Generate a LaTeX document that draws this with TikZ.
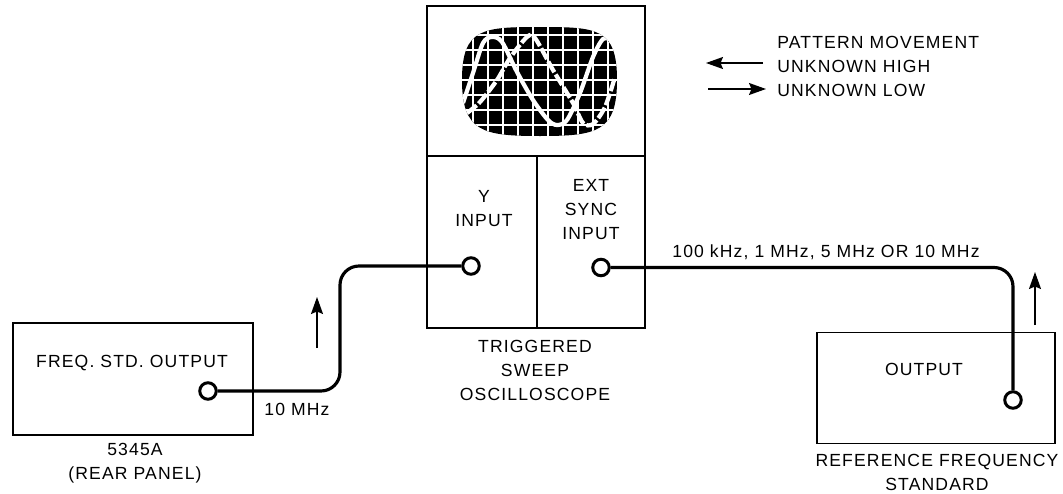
\documentclass[tikz,border=0pt]{standalone}
\usepackage{fontspec}
\setmainfont[LetterSpace=6.5]{Liberation Sans}
\usepackage{tikz}
\usetikzlibrary{arrows.meta, positioning, calc}
\newcommand{\crtpath}{(540,27) .. controls (597,27) and (617,28) .. (617,80)
  .. controls (617,132) and (597,136) .. (540,136)
  .. controls (483,136) and (462,132) .. (462,80)
  .. controls (462,28) and (483,27) .. (540,27) -- cycle}

\begin{document}
\begin{tikzpicture}[
  x=0.02cm, y=-0.02cm,
  lbl/.style={font=\fontsize{10}{13.66}\selectfont, align=center, inner sep=0pt},
  panel/.style={rectangle, draw, line width=0.8pt, inner sep=0pt, outer sep=0pt},
  port/.style={circle, draw, line width=1.7pt, fill=white, inner sep=0pt, minimum size=0.33cm},
  wire/.style={line width=1.8pt, rounded corners=0.38cm},
  arr/.style={-{Stealth[length=0.34cm, width=0.24cm, inset=0.05cm]}, line width=0.8pt},
  trace/.style={white, line width=2.4pt}
]
\useasboundingbox (0,0) rectangle (1063,494);
% oscilloscope panels
\node[panel, minimum width=4.36cm, minimum height=3cm] (screenpanel) at (536,81) {};
\node[panel, minimum width=2.2cm, minimum height=3.44cm] (ypanel) at (482,242) {};
\node[panel, minimum width=2.16cm, minimum height=3.44cm] (extpanel) at (591,242) {};
% crt screen
\fill \crtpath;
\begin{scope}
  \clip \crtpath;
  \foreach \i in {0,...,9}{
    \draw[white, line width=0.6pt] (473+\i*15,20) -- (473+\i*15,140);
  }
  \foreach \j in {0,...,6}{
    \draw[white, line width=0.6pt] (455,35+\j*15) -- (625,35+\j*15);
  }
  \draw[trace] plot[smooth] coordinates {(463,103) (473,73) (483,43) (492,37) (502,42) (517,72)
    (533,100) (548,120) (557,125) (567,120) (580,93) (593,57) (603,39) (612,40)};
  \draw[trace, dash pattern=on 7pt off 1.5pt] plot[smooth] coordinates {(467,113) (480,102) (497,80)
    (510,58) (527,37) (535,38) (553,70) (573,103) (583,123) (593,124) (605,107) (615,77)};
\end{scope}
% source and reference boxes
\node[panel, minimum width=4.8cm, minimum height=2.24cm] (freqbox) at (133,379) {};
\node[panel, minimum width=4.76cm, minimum height=2.22cm] (refbox) at (936,388) {};
% ports
\node[port] (freqport) at (208,391) {};
\node[port] (yport) at (471,266) {};
\node[port] (extport) at (601,267.5) {};
\node[port] (refport) at (1013,400) {};
% labels
\node[lbl] (freqlbl) at (132,363) {FREQ. STD. OUTPUT};
\node[lbl] (mhzlbl) at (297,409) {10 MHz};
\node[lbl] (rearlbl) at (135,463) {5345A\\(REAR PANEL)};
\node[lbl] (ylbl) at (484,209) {Y\\INPUT};
\node[lbl] (extlbl) at (591,210) {EXT\\SYNC\\INPUT};
\node[lbl] (scopelbl) at (535,370) {TRIGGERED\\SWEEP\\OSCILLOSCOPE};
\node[lbl] (freqslbl) at (826,252) {100 kHz, 1 MHz, 5 MHz OR 10 MHz};
\node[lbl] (outlbl) at (924,369) {OUTPUT};
\node[lbl] (stdlbl) at (937,472) {REFERENCE FREQUENCY\\STANDARD};
\node[lbl, anchor=west] (patlbl) at (777,42) {PATTERN MOVEMENT};
\node[lbl, anchor=west] (highlbl) at (777,66) {UNKNOWN HIGH};
\node[lbl, anchor=west] (lowlbl) at (777,90) {UNKNOWN LOW};
% wires
\coordinate (riser) at (340,330);
\draw[wire] (freqport.east) -| (riser) |- (yport.west);
\draw[wire] (extport.east) -| (refport.north);
% direction arrows
\coordinate (upa) at (317,348);
\coordinate (upb) at (317,297);
\coordinate (upc) at (1035,325);
\coordinate (upd) at (1035,272);
\coordinate (hia) at (763,63);
\coordinate (hib) at (706,63);
\coordinate (loa) at (708,89);
\coordinate (lob) at (766,89);
\draw[arr] (upa) -- (upb);
\draw[arr] (upc) -- (upd);
\draw[arr] (hia) -- (hib);
\draw[arr] (loa) -- (lob);
\end{tikzpicture}
\end{document}
